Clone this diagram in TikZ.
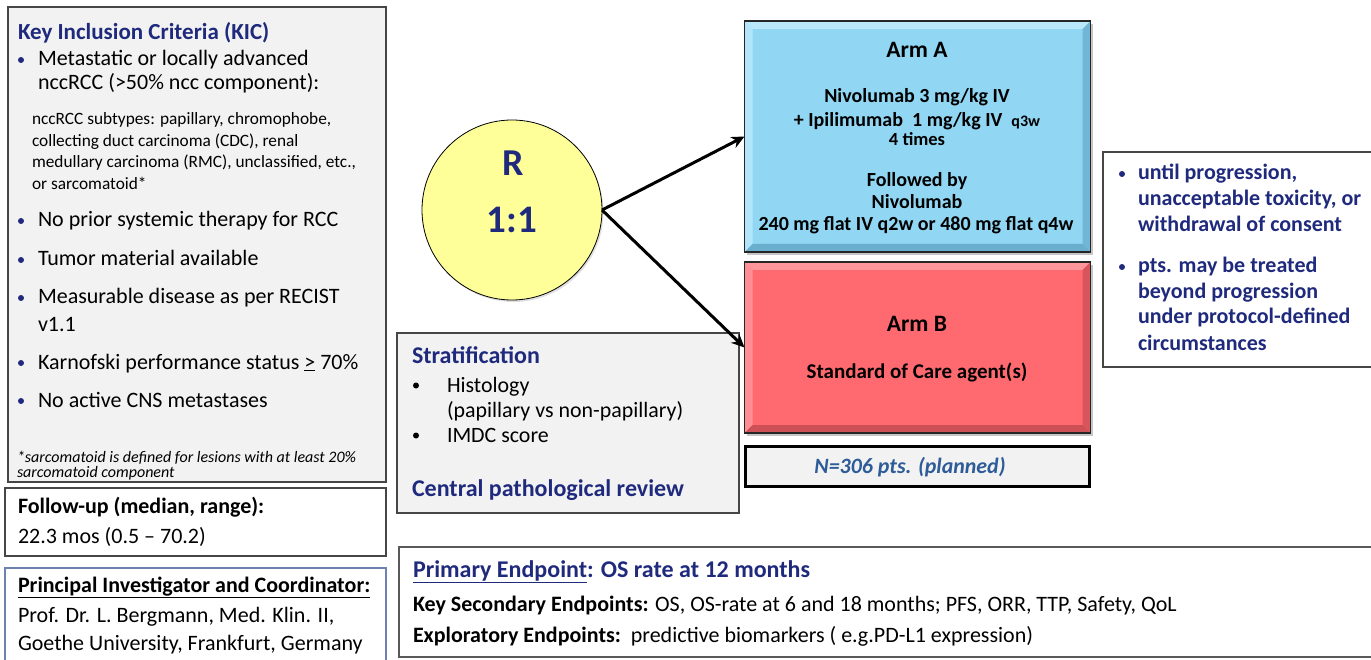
\documentclass[tikz,border=0pt]{standalone}
\usepackage{fontspec}
\setmainfont{Carlito}
\usetikzlibrary{arrows.meta,shadows}
\definecolor{navytext}{RGB}{31,42,125}
\definecolor{ntext}{RGB}{46,92,152}
\definecolor{panelgray}{RGB}{242,242,242}
\definecolor{edgegray}{RGB}{70,70,70}
\definecolor{piedge}{RGB}{110,130,175}
\definecolor{circfill}{RGB}{255,255,153}
\definecolor{armAbase}{RGB}{145,215,244}
\definecolor{armAlight}{RGB}{185,232,251}
\definecolor{armAdark}{RGB}{105,175,205}
\definecolor{armBbase}{RGB}{255,106,112}
\definecolor{armBlight}{RGB}{255,150,154}
\definecolor{armBdark}{RGB}{205,80,86}
\newcommand{\setfs}[2]{\fontsize{#1}{#2}\selectfont}
\begin{document}
\begin{tikzpicture}[x=1pt,y=-1pt,
  every node/.style={inner sep=0pt,outer sep=0pt},
  panel/.style={draw=edgegray,line width=1.5pt,anchor=north west},
  big/.style={anchor=base west,font=\setfs{22}{26}},
  small/.style={anchor=base west,font=\setfs{17.3}{21}},
  note/.style={anchor=base west,font=\setfs{16}{19}\itshape},
  head/.style={anchor=base west,font=\setfs{23}{27}\bfseries,text=navytext},
  bul/.style={circle,fill=navytext,minimum size=6pt},
  armtxt/.style={anchor=base,font=\setfs{20}{24}\bfseries},
  side/.style={anchor=base west,font=\setfs{22}{26}\bfseries,text=navytext},
  strat/.style={anchor=base west,font=\setfs{21.9}{26}},
  ep/.style={anchor=base west,font=\setfs{22}{26}},
  link/.style={line width=3pt,-{Stealth[length=13pt,width=12pt]}}]
\useasboundingbox (0,0) rectangle (1371,660);

% ---------- inclusion criteria panel ----------
\node[panel,fill=panelgray,minimum width=378,minimum height=475] (kic) at (8,7) {};
\node[head] (kict) at (18,40) {Key Inclusion Criteria (KIC)};
\node[bul] (b1) at (21,60) {};
\node[big] (k1a) at (38,66) {Metastatic or locally advanced};
\node[big] (k1b) at (38,90) {nccRCC (>50\% ncc component):};
\node[small] (s1) at (32,125) {nccRCC subtypes: papillary, chromophobe,};
\node[small] (s2) at (32,146.5) {collecting duct carcinoma (CDC), renal};
\node[small] (s3) at (32,168) {medullary carcinoma (RMC), unclassified, etc.,};
\node[small] (s4) at (32,189.5) {or sarcomatoid*};
\node[bul] (b2) at (21,221) {};
\node[big] (k2) at (38,227) {No prior systemic therapy for RCC};
\node[bul] (b3) at (21,260) {};
\node[big] (k3) at (38,266) {Tumor material available};
\node[bul] (b4) at (21,298) {};
\node[big] (k4a) at (38,304) {Measurable disease as per RECIST};
\node[big] (k4b) at (38,331) {v1.1};
\node[bul] (b5) at (21,363) {};
\node[big] (k5) at (38,369) {Karnofski performance status \underline{>} 70\%};
\node[bul] (b6) at (21,401) {};
\node[big] (k6) at (38,407) {No active CNS metastases};
\node[note] (f1) at (17,462) {*sarcomatoid is defined for lesions with at least 20\%};
\node[note] (f2) at (17,477) {sarcomatoid component};

% ---------- follow-up ----------
\node[panel,fill=white,minimum width=381,minimum height=68] (fu) at (5,488) {};
\node[big,font=\setfs{22}{26}\bfseries] (fut) at (18,513) {Follow-up (median, range):};
\node[big] (fuv) at (18,543) {22.3 mos (0.5 -- 70.2)};

% ---------- principal investigator ----------
\node[panel,draw=piedge,line width=1.2pt,fill=white,minimum width=381,minimum height=100] (pi) at (5,568) {};
\node[big,font=\setfs{22}{26}\bfseries] (pit) at (18,592) {\underline{Principal Investigator and Coordinator:}};
\node[big] (pi1) at (18,622) {Prof. Dr. L. Bergmann, Med. Klin. II,};
\node[big] (pi2) at (18,650) {Goethe University, Frankfurt, Germany};

% ---------- randomisation ----------
\node[circle,draw=black,line width=0.8pt,fill=circfill,minimum size=180,
      drop shadow={opacity=0.25,shadow xshift=1.5pt,shadow yshift=-2pt}] (rand) at (512,210) {};
\node[anchor=base,font=\setfs{38}{42}\bfseries,text=navytext] (rr) at (513,176) {R};
\node[anchor=base,font=\setfs{39}{42}\bfseries,text=navytext] (rq) at (512,233) {1:1};

% ---------- treatment arms ----------
\node[draw=black!85,line width=1.5pt,fill=armAbase,minimum width=346,minimum height=231,anchor=north west,
      drop shadow={opacity=0.45,shadow xshift=2.5pt,shadow yshift=-3pt}] (armA) at (744.5,21) {};
\fill[armAlight] (armA.north west) -- (armA.north east) -- ([shift={(-8,8)}]armA.north east) -- ([shift={(8,8)}]armA.north west) -- cycle;
\fill[armAlight!85!armAbase] (armA.north west) -- ([shift={(8,8)}]armA.north west) -- ([shift={(8,-8)}]armA.south west) -- (armA.south west) -- cycle;
\fill[armAdark] (armA.south west) -- ([shift={(8,-8)}]armA.south west) -- ([shift={(-8,-8)}]armA.south east) -- (armA.south east) -- cycle;
\fill[armAdark!80!armAbase] (armA.north east) -- ([shift={(-8,8)}]armA.north east) -- ([shift={(-8,-8)}]armA.south east) -- (armA.south east) -- cycle;
\draw[black!85,line width=1.5pt] (armA.north west) rectangle (armA.south east);
\node[armtxt,font=\setfs{23.5}{27}\bfseries] (aA) at (917,58) {Arm A};
\node[armtxt] (a1) at (917,103) {Nivolumab 3 mg/kg IV};
\node[armtxt] (a2) at (917,127) {+ Ipilimumab\ \ 1 mg/kg IV\ \ {\setfs{16}{19}q3w}};
\node[armtxt,font=\setfs{18.5}{22}\bfseries] (a3) at (917,146) {4 times};
\node[armtxt] (a4) at (917,187) {Followed by};
\node[armtxt] (a5) at (917,209) {Nivolumab};
\node[armtxt] (a6) at (916,231) {240 mg flat IV q2w or 480 mg flat q4w};

\node[draw=black!85,line width=1.5pt,fill=armBbase,minimum width=346,minimum height=171,anchor=north west,
      drop shadow={opacity=0.45,shadow xshift=2.5pt,shadow yshift=-3pt}] (armB) at (744.5,262) {};
\fill[armBlight] (armB.north west) -- (armB.north east) -- ([shift={(-8,8)}]armB.north east) -- ([shift={(8,8)}]armB.north west) -- cycle;
\fill[armBlight!85!armBbase] (armB.north west) -- ([shift={(8,8)}]armB.north west) -- ([shift={(8,-8)}]armB.south west) -- (armB.south west) -- cycle;
\fill[armBdark] (armB.south west) -- ([shift={(8,-8)}]armB.south west) -- ([shift={(-8,-8)}]armB.south east) -- (armB.south east) -- cycle;
\fill[armBdark!80!armBbase] (armB.north east) -- ([shift={(-8,8)}]armB.north east) -- ([shift={(-8,-8)}]armB.south east) -- (armB.south east) -- cycle;
\draw[black!85,line width=1.5pt] (armB.north west) rectangle (armB.south east);
\node[armtxt,font=\setfs{23.5}{27}\bfseries] (bB) at (917,332) {Arm B};
\node[armtxt,font=\setfs{21}{25}\bfseries] (b1t) at (917,378) {Standard of Care agent(s)};

\node[draw=black,line width=3pt,fill=panelgray,minimum width=344,minimum height=40,anchor=north west] (nbox) at (745.5,446) {};
\node[anchor=base,font=\setfs{21.9}{26}\bfseries\itshape,text=ntext] (nt) at (910,473) {N=306 pts. (planned)};

% ---------- treatment duration notes ----------
\node[panel,draw=edgegray,line width=1.2pt,fill=white,minimum width=280,minimum height=215] (dur) at (1103,152) {};
\node[bul] (d0) at (1122,174) {};
\node[side] (d1) at (1138,180) {until progression,};
\node[side] (d2) at (1138,206) {unacceptable toxicity, or};
\node[side] (d3) at (1138,232) {withdrawal of consent};
\node[bul] (e0) at (1122,267) {};
\node[side] (e1) at (1138,273) {pts. may be treated};
\node[side] (e2) at (1138,298.5) {beyond progression};
\node[side] (e3) at (1138,324) {under protocol-defined};
\node[side] (e4) at (1138,350) {circumstances};

% ---------- stratification ----------
\node[panel,line width=1.2pt,fill=panelgray,minimum width=342,minimum height=180] (st) at (397,333) {};
\node[head,font=\setfs{24}{28}\bfseries] (stt) at (412,363) {Stratification};
\node[bul,fill=black] (sb1) at (416,385.5) {};
\node[strat] (st1) at (447,392) {Histology};
\node[strat] (st2) at (447,417) {(papillary vs non-papillary)};
\node[bul,fill=black] (sb2) at (416,435.5) {};
\node[strat] (st3) at (447,442) {IMDC score};
\node[head,font=\setfs{24}{28}\bfseries] (cpr) at (412,496) {Central pathological review};

% ---------- endpoints ----------
\node[panel,draw=edgegray!90,line width=1.8pt,fill=white,minimum width=990,minimum height=110] (endp) at (399,547) {};
\node[ep,font=\setfs{24}{28}\bfseries,text=navytext] (p1) at (413,577) {\underline{Primary Endpoint}: OS rate at 12 months};
\node[ep] (p2) at (413,611) {\textbf{Key Secondary Endpoints:} OS, OS-rate at 6 and 18 months; PFS, ORR, TTP, Safety, QoL};
\node[ep] (p3) at (413,642) {\textbf{Exploratory Endpoints:}\ \ predictive biomarkers ( e.g.PD-L1 expression)};

% ---------- randomisation arrows (on top) ----------
\draw[link] (rand.east) -- (armA.west);
\draw[link] (rand.east) -- (armB.west);
\end{tikzpicture}
\end{document}
